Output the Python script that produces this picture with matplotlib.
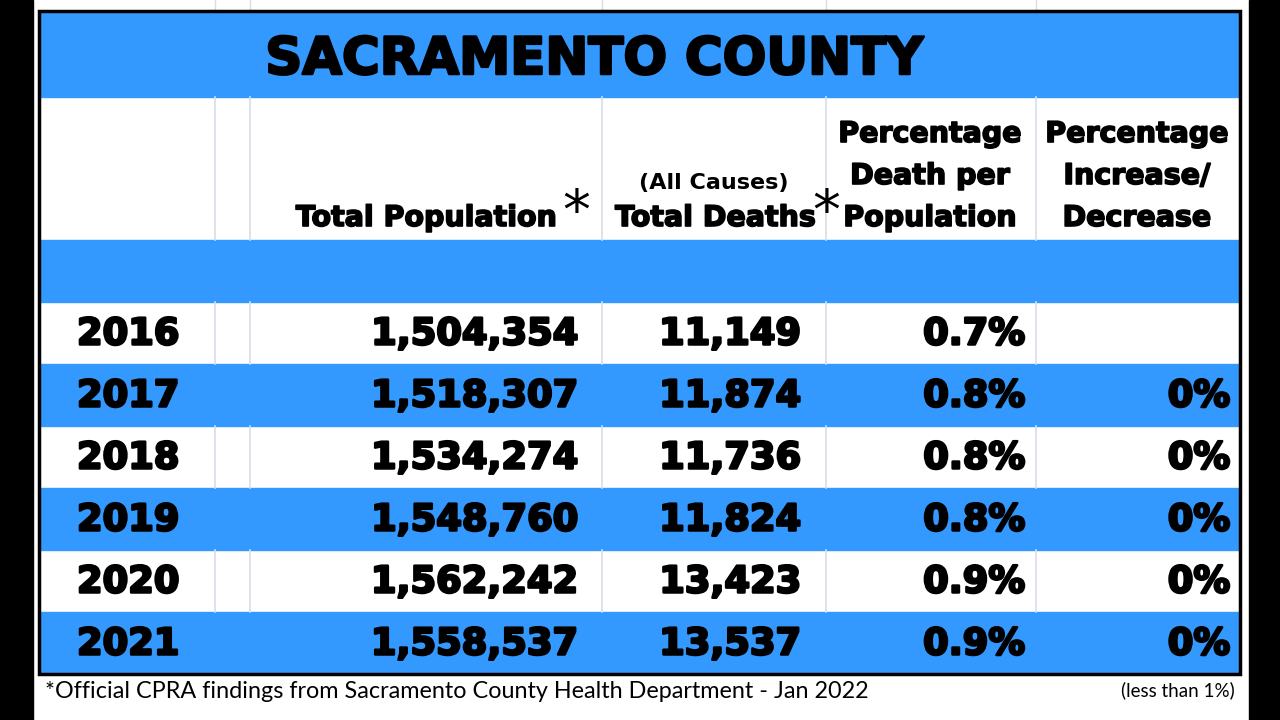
import matplotlib
matplotlib.use("Agg")
import matplotlib.pyplot as plt
from matplotlib.patches import Rectangle
import matplotlib.patheffects as pe

title = "SACRAMENTO COUNTY"
years = ["2016", "2017", "2018", "2019", "2020", "2021"]
population = ["1,504,354", "1,518,307", "1,534,274", "1,548,760", "1,562,242", "1,558,537"]
deaths = ["11,149", "11,874", "11,736", "11,824", "13,423", "13,537"]
pct_death = ["0.7%", "0.8%", "0.8%", "0.8%", "0.9%", "0.9%"]
pct_change = ["", "0%", "0%", "0%", "0%", "0%"]
footnote = "*Official CPRA findings from Sacramento County Health Department - Jan 2022"
side_note = "(less than 1%)"

BLUE = "#3399ff"
GRID = "#d9dde6"
heavy = [pe.withStroke(linewidth=1.8, foreground="black")]

fig = plt.figure(figsize=(12.8, 7.2), dpi=100)
ax = fig.add_axes([0, 0, 1, 1])
ax.set_xlim(0, 1280)
ax.set_ylim(720, 0)
ax.axis("off")

# black side bars
ax.add_patch(Rectangle((0, 0), 33, 720, color="black"))
ax.add_patch(Rectangle((1249, 0), 31, 720, color="black"))

L, R = 39, 1240
col_lines = [215, 250, 602, 826, 1036]

# faint grid above table
for x in col_lines:
    ax.plot([x, x], [0, 10], color=GRID, lw=1)

# title band
ax.add_patch(Rectangle((L, 11), R - L, 86, color=BLUE))
ax.text(594, 60, title, ha="center", va="center", fontsize=37,
        fontweight="bold", family="DejaVu Sans", path_effects=heavy)

# blue spacer under header
ax.add_patch(Rectangle((L, 240), R - L, 62, color=BLUE))

row_h = 62
top = 302
for i, yr in enumerate(years):
    y0 = top + i * row_h
    if i % 2 == 1:
        ax.add_patch(Rectangle((L, y0), R - L, row_h, color=BLUE, zorder=0))
    else:
        for x in col_lines:
            ax.plot([x, x], [y0, y0 + row_h], color=GRID, lw=1.2)
    yc = y0 + row_h / 2 + 1
    kw = dict(va="center", fontsize=26.5, fontweight="bold", family="DejaVu Sans",
              path_effects=heavy)
    ax.text(77, yc, yr, ha="left", **kw)
    ax.text(578, yc, population[i], ha="right", **kw)
    ax.text(801, yc, deaths[i], ha="right", **kw)
    ax.text(1025, yc, pct_death[i], ha="right", **kw)
    ax.text(1230, yc, pct_change[i], ha="right", **kw)

# header column lines
for x in col_lines:
    ax.plot([x, x], [97, 240], color=GRID, lw=1.2)

hk = dict(fontsize=20.5, fontweight="bold", family="DejaVu Sans",
          path_effects=[pe.withStroke(linewidth=1.2, foreground="black")])
ax.text(557, 218, "Total Population", ha="right", va="center", **hk)
ax.text(576, 214, "*", ha="center", va="center", fontsize=40, family="DejaVu Sans")
ax.text(714, 183, "(All Causes)", ha="center", va="center", fontsize=16,
        fontweight="bold", family="DejaVu Sans")
ax.text(816, 218, "Total Deaths", ha="right", va="center", **hk)
ax.text(826, 214, "*", ha="center", va="center", fontsize=40, family="DejaVu Sans")
for j, ln in enumerate(["Percentage", "Death per", "Population"]):
    ax.text(930, 134 + j * 42, ln, ha="center", va="center", **hk)
for j, ln in enumerate(["Percentage", "Increase/", "Decrease"]):
    ax.text(1137, 134 + j * 42, ln, ha="center", va="center", **hk)

# table border
ax.add_patch(Rectangle((L, 11), R - L, 663, fill=False, ec="black", lw=2.5, zorder=5))

ax.text(45, 692, footnote, ha="left", va="center", fontsize=16.8, family="Lato")
ax.text(1235, 690, side_note, ha="right", va="center", fontsize=13.5, family="Lato")

fig.savefig("out.png", dpi=100)
